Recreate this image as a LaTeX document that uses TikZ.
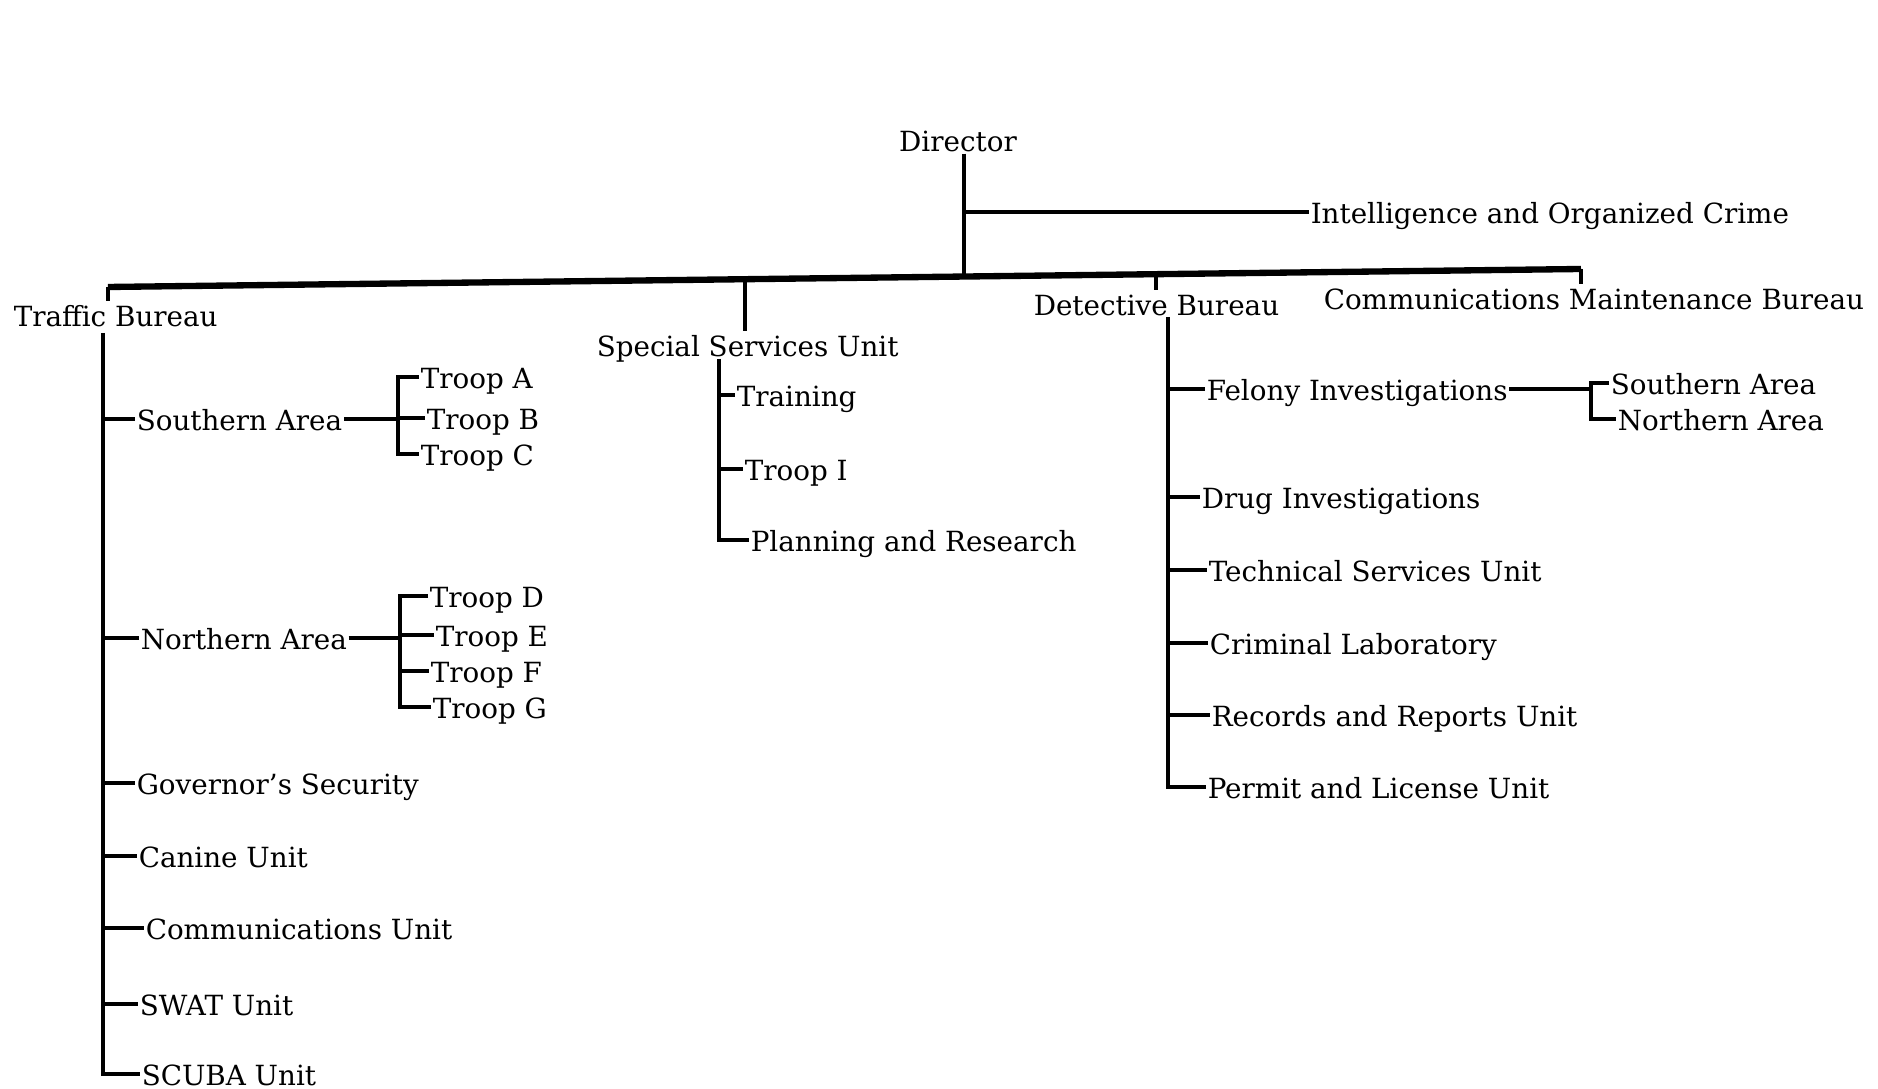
\documentclass[tikz,border=0pt]{standalone}
\usepackage{fontspec}
\setmainfont{DejaVu Serif}
\begin{document}
\begin{tikzpicture}[x=0.01cm,y=-0.01cm,line width=1pt,
	unit/.style={anchor=west,inner sep=0pt,text height=1.3ex,text depth=0pt,font=\fontsize{7.9}{9}\selectfont},
	bar/.style={line width=1.8pt}]
	\useasboundingbox (0,0) rectangle (1878,1089);
	% director
		\node[unit,anchor=center] (director) at (958,140) {Director};
		\coordinate (jDirector) at (964,276.5);
		\coordinate (jIntel) at (964,212);
		\draw (director.south -| jDirector) -- (jDirector);
		\node[unit] (intel) at (1309,212) {Intelligence and Organized Crime};
		\draw (jIntel) -- (intel.west);
	% bureau bar
		\coordinate (jTraffic) at (108,287);
		\coordinate (jSpecial) at (745,279.2);
		\coordinate (jDetective) at (1156,274.2);
		\coordinate (jComm) at (1581,269);
		\draw[bar] (jTraffic) -- (jComm);
		\node[unit] (traffic) at (12,315) {Traffic Bureau};
		\node[unit] (special) at (595,345) {Special Services Unit};
		\node[unit] (detective) at (1032,304) {Detective Bureau};
		\node[unit] (comm) at (1322,298) {Communications Maintenance Bureau};
		\draw (jTraffic) -- (jTraffic |- traffic.north);
		\draw (jSpecial) -- (jSpecial |- special.north);
		\draw (jDetective) -- (jDetective |- detective.north);
		\draw (jComm) -- (jComm |- comm.north);
	% traffic bureau
		\coordinate (tTop) at (103,333);
		\node[unit] (southern) at (135,419) {Southern Area};
		\node[unit] (northern) at (139,638) {Northern Area};
		\node[unit] (governor) at (135,783) {Governor's Security};
		\node[unit] (canine) at (137,856) {Canine Unit};
		\node[unit] (commUnit) at (144,928) {Communications Unit};
		\node[unit] (swat) at (138,1004) {SWAT Unit};
		\node[unit] (scuba) at (140,1074) {SCUBA Unit};
		\draw (tTop) |- (scuba.west);
		\foreach \n in {southern,northern,governor,canine,commUnit,swat}
			\draw (tTop |- \n.west) -- (\n.west);
	% southern troops
		\coordinate (sBr) at (398,419);
		\node[unit] (troopA) at (419,377) {Troop A};
		\node[unit] (troopB) at (425,418) {Troop B};
		\node[unit] (troopC) at (419,454) {Troop C};
		\draw (southern.east) -- (sBr);
		\draw (troopA.west) -| (sBr) |- (troopC.west);
		\draw (sBr |- troopB.west) -- (troopB.west);
	% northern troops
		\coordinate (nBr) at (400,638);
		\node[unit] (troopD) at (428,596) {Troop D};
		\node[unit] (troopE) at (434,635) {Troop E};
		\node[unit] (troopF) at (429,671) {Troop F};
		\node[unit] (troopG) at (431,707) {Troop G};
		\draw (northern.east) -- (nBr);
		\draw (troopD.west) -| (nBr) |- (troopG.west);
		\foreach \n in {troopE,troopF}
			\draw (nBr |- \n.west) -- (\n.west);
	% special services unit
		\coordinate (sTop) at (719,359);
		\node[unit] (training) at (735,395) {Training};
		\node[unit] (troopI) at (743,469) {Troop I};
		\node[unit] (planning) at (749,540) {Planning and Research};
		\draw (sTop) |- (planning.west);
		\foreach \n in {training,troopI}
			\draw (sTop |- \n.west) -- (\n.west);
	% detective bureau
		\coordinate (dTop) at (1168,317);
		\node[unit] (felony) at (1205,389) {Felony Investigations};
		\node[unit] (drug) at (1200,497) {Drug Investigations};
		\node[unit] (technical) at (1207,570) {Technical Services Unit};
		\node[unit] (lab) at (1208,643) {Criminal Laboratory};
		\node[unit] (records) at (1210,715) {Records and Reports Unit};
		\node[unit] (permit) at (1206,787) {Permit and License Unit};
		\draw (dTop) |- (permit.west);
		\foreach \n in {felony,drug,technical,lab,records}
			\draw (dTop |- \n.west) -- (\n.west);
	% felony areas
		\coordinate (fBr) at (1591,389);
		\node[unit] (fSouth) at (1609,383) {Southern Area};
		\node[unit] (fNorth) at (1616,419) {Northern Area};
		\draw (felony.east) -- (fBr);
		\draw (fSouth.west) -| (fBr) |- (fNorth.west);
\end{tikzpicture}
\end{document}
